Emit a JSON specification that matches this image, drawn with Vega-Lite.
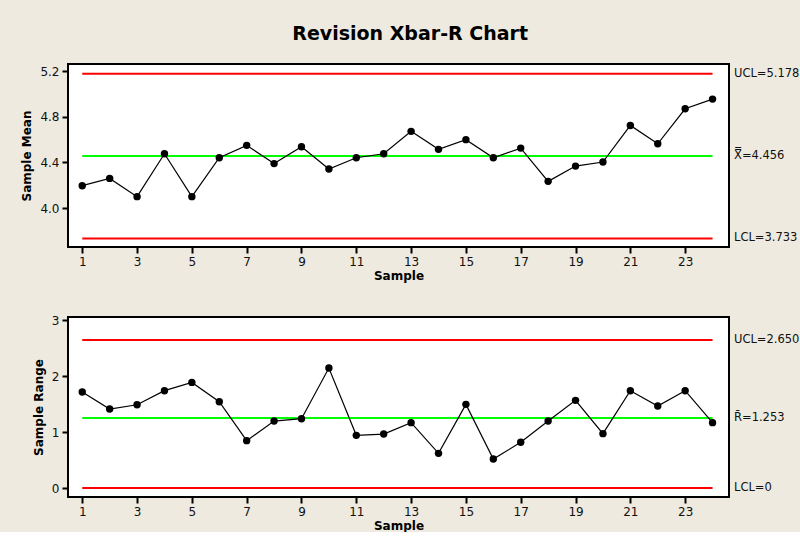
{
  "$schema": "https://vega.github.io/schema/vega-lite/v6.json",
  "background": "#EEEAE0",
  "padding": {"left": 19, "top": 25, "right": 0, "bottom": 0},
  "title": {"text": "Revision Xbar-R Chart", "font": "DejaVu Sans", "fontSize": 19, "fontWeight": "bold", "color": "#000000", "anchor": "middle", "offset": 19},
  "spacing": 31,
  "datasets": {
    "means": [
      {"sample": 1, "mean": 4.196}, {"sample": 2, "mean": 4.26}, {"sample": 3, "mean": 4.10}, {"sample": 4, "mean": 4.476},
      {"sample": 5, "mean": 4.10}, {"sample": 6, "mean": 4.441}, {"sample": 7, "mean": 4.55}, {"sample": 8, "mean": 4.39},
      {"sample": 9, "mean": 4.538}, {"sample": 10, "mean": 4.342}, {"sample": 11, "mean": 4.441}, {"sample": 12, "mean": 4.476},
      {"sample": 13, "mean": 4.673}, {"sample": 14, "mean": 4.515}, {"sample": 15, "mean": 4.60}, {"sample": 16, "mean": 4.441},
      {"sample": 17, "mean": 4.526}, {"sample": 18, "mean": 4.234}, {"sample": 19, "mean": 4.368}, {"sample": 20, "mean": 4.404},
      {"sample": 21, "mean": 4.725}, {"sample": 22, "mean": 4.564}, {"sample": 23, "mean": 4.871}, {"sample": 24, "mean": 4.956}
    ],
    "ranges": [
      {"sample": 1, "range": 1.717}, {"sample": 2, "range": 1.413}, {"sample": 3, "range": 1.49}, {"sample": 4, "range": 1.742},
      {"sample": 5, "range": 1.89}, {"sample": 6, "range": 1.545}, {"sample": 7, "range": 0.848}, {"sample": 8, "range": 1.199},
      {"sample": 9, "range": 1.241}, {"sample": 10, "range": 2.147}, {"sample": 11, "range": 0.943}, {"sample": 12, "range": 0.966},
      {"sample": 13, "range": 1.17}, {"sample": 14, "range": 0.621}, {"sample": 15, "range": 1.497}, {"sample": 16, "range": 0.519},
      {"sample": 17, "range": 0.818}, {"sample": 18, "range": 1.199}, {"sample": 19, "range": 1.569}, {"sample": 20, "range": 0.973},
      {"sample": 21, "range": 1.742}, {"sample": 22, "range": 1.467}, {"sample": 23, "range": 1.742}, {"sample": 24, "range": 1.17}
    ],
    "meanLimits": [
      {"kind": "limit", "value": 5.178, "label": "UCL=5.178"},
      {"kind": "center", "value": 4.456, "label": "X̿=4.456"},
      {"kind": "limit", "value": 3.733, "label": "LCL=3.733"}
    ],
    "rangeLimits": [
      {"kind": "limit", "value": 2.650, "label": "UCL=2.650"},
      {"kind": "center", "value": 1.253, "label": "R̄=1.253"},
      {"kind": "limit", "value": 0, "label": "LCL=0"}
    ]
  },
  "vconcat": [
    {
      "width": 661,
      "height": 183,
      "layer": [
        {
          "data": {"name": "meanLimits"},
          "mark": {"type": "rule", "strokeWidth": 2},
          "encoding": {
            "x": {"datum": 1, "type": "quantitative", "scale": {"domain": [0.48, 24.6], "nice": false, "zero": false}, "axis": {"values": [1,3,5,7,9,11,13,15,17,19,21,23], "title": "Sample"}},
            "x2": {"datum": 24},
            "y": {"field": "value", "type": "quantitative", "scale": {"domain": [3.658, 5.264], "nice": false, "zero": false}, "axis": {"values": [4.0, 4.4, 4.8, 5.2], "format": ".1f", "title": "Sample Mean"}},
            "color": {"field": "kind", "type": "nominal", "scale": {"domain": ["limit", "center"], "range": ["#FF0000", "#00FF00"]}, "legend": null}
          }
        },
        {
          "data": {"name": "means"},
          "mark": {"type": "line", "color": "#000000", "strokeWidth": 1.2},
          "encoding": {
            "x": {"field": "sample", "type": "quantitative"},
            "y": {"field": "mean", "type": "quantitative"}
          }
        },
        {
          "data": {"name": "means"},
          "mark": {"type": "point", "filled": true, "color": "#000000", "size": 55, "opacity": 1},
          "encoding": {
            "x": {"field": "sample", "type": "quantitative"},
            "y": {"field": "mean", "type": "quantitative"}
          }
        },
        {
          "data": {"name": "meanLimits"},
          "mark": {"type": "text", "align": "left", "baseline": "middle", "dx": 5, "font": "DejaVu Sans", "fontSize": 11.5, "color": "#111111"},
          "encoding": {
            "x": {"datum": 24.6},
            "y": {"field": "value", "type": "quantitative"},
            "text": {"field": "label"}
          }
        }
      ]
    },
    {
      "width": 661,
      "height": 180,
      "layer": [
        {
          "data": {"name": "rangeLimits"},
          "mark": {"type": "rule", "strokeWidth": 2},
          "encoding": {
            "x": {"datum": 1, "type": "quantitative", "scale": {"domain": [0.48, 24.6], "nice": false, "zero": false}, "axis": {"values": [1,3,5,7,9,11,13,15,17,19,21,23], "title": "Sample"}},
            "x2": {"datum": 24},
            "y": {"field": "value", "type": "quantitative", "scale": {"domain": [-0.16, 3.06], "nice": false, "zero": false}, "axis": {"values": [0, 1, 2, 3], "format": "d", "title": "Sample Range"}},
            "color": {"field": "kind", "type": "nominal", "scale": {"domain": ["limit", "center"], "range": ["#FF0000", "#00FF00"]}, "legend": null}
          }
        },
        {
          "data": {"name": "ranges"},
          "mark": {"type": "line", "color": "#000000", "strokeWidth": 1.2},
          "encoding": {
            "x": {"field": "sample", "type": "quantitative"},
            "y": {"field": "range", "type": "quantitative"}
          }
        },
        {
          "data": {"name": "ranges"},
          "mark": {"type": "point", "filled": true, "color": "#000000", "size": 55, "opacity": 1},
          "encoding": {
            "x": {"field": "sample", "type": "quantitative"},
            "y": {"field": "range", "type": "quantitative"}
          }
        },
        {
          "data": {"name": "rangeLimits"},
          "mark": {"type": "text", "align": "left", "baseline": "middle", "dx": 5, "font": "DejaVu Sans", "fontSize": 11.5, "color": "#111111"},
          "encoding": {
            "x": {"datum": 24.6},
            "y": {"field": "value", "type": "quantitative"},
            "text": {"field": "label"}
          }
        }
      ]
    }
  ],
  "config": {
    "view": {"stroke": "#000000", "strokeWidth": 2, "fill": "#FFFFFF"},
    "axis": {
      "domain": false,
      "grid": false,
      "ticks": true,
      "tickColor": "#000000",
      "tickWidth": 2,
      "tickSize": 6,
      "labelFont": "DejaVu Sans",
      "labelFontSize": 12,
      "labelColor": "#111111",
      "labelPadding": 3,
      "titleFont": "DejaVu Sans",
      "titleFontSize": 12,
      "titleFontWeight": "bold",
      "titleColor": "#000000"
    },
    "axisX": {"titlePadding": 3},
    "axisY": {"titlePadding": 6}
  }
}
